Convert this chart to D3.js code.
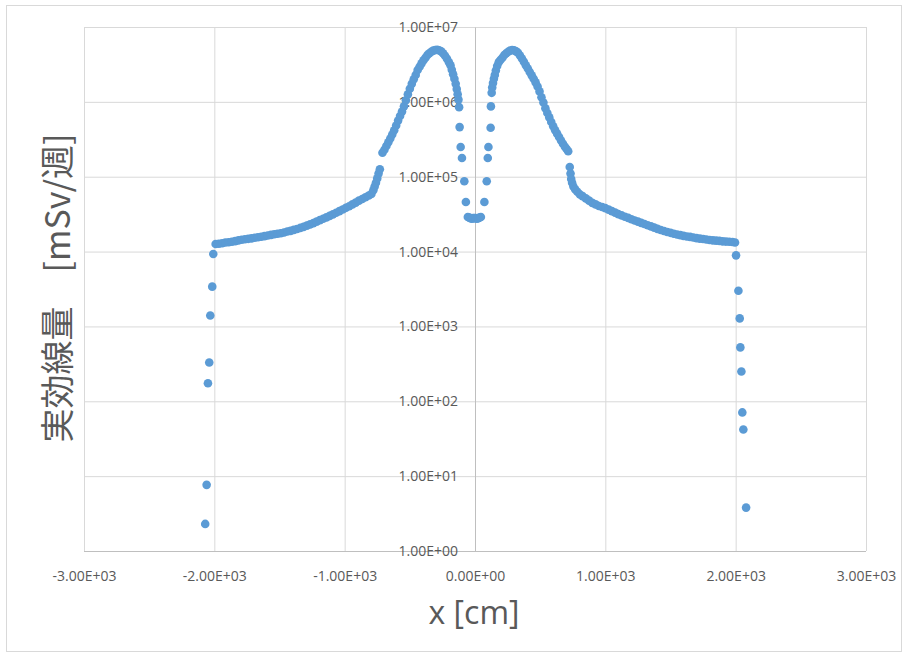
<!DOCTYPE html>
<html><head><meta charset="utf-8">
<script src="https://cdn.jsdelivr.net/npm/d3@7/dist/d3.min.js"></script>
<style>
html,body{margin:0;padding:0;background:#fff;}
svg{display:block;}
</style></head>
<body>
<svg id="chart" width="907" height="657"></svg>
<script>
// ---- data ----
const xTicks = [-3000, -2000, -1000, 0, 1000, 2000, 3000];
const xTickLabels = ["-3.00E+03", "-2.00E+03", "-1.00E+03", "0.00E+00", "1.00E+03", "2.00E+03", "3.00E+03"];
const yTicks = [1, 10, 100, 1000, 10000, 100000, 1000000, 10000000];
const yTickLabels = ["1.00E+00", "1.00E+01", "1.00E+02", "1.00E+03", "1.00E+04", "1.00E+05", "1.00E+06", "1.00E+07"];

// position x [cm]
const positions = [
  -2070, -2059, -2049, -2039, -2031, -2016, -2008,
  -1990, -1965, -1940, -1915, -1890, -1865, -1840, -1815, -1790, -1765, -1740, -1715, -1690, -1665, -1640, -1615,
  -1590, -1565, -1540, -1515, -1490, -1465, -1440, -1415, -1390, -1365, -1340, -1315, -1290, -1265, -1240, -1215,
  -1190, -1165, -1140, -1115, -1090, -1065, -1040, -1015, -990, -965, -940, -915, -890, -865, -840, -815,
  -795, -780, -770, -760, -750, -740, -730,
  -710, -695, -680, -665, -650, -635, -620, -605, -590, -575, -560, -545, -530, -515, -500, -485, -470, -455,
  -440, -425, -410, -395, -380, -365, -350, -335, -320, -305, -290, -275, -260, -245, -230, -215, -200,
  -188, -178, -168, -158, -148, -140, -133, -127, -122,
  -118, -110, -100, -82, -70,
  -55, -45, -35, -25, -15, -5, 5, 15, 25, 35, 45,
  72, 90, 98, 103, 120, 122,
  128, 132, 138, 145, 152, 160, 170, 182, 195, 210, 225, 240, 255, 270, 285, 300, 315, 330, 345, 360, 375,
  390, 405, 420, 435, 450, 465, 480, 495, 510, 525, 540, 555, 570, 585, 600, 615, 630, 645, 660, 675, 690, 703, 715,
  727, 733, 738, 745, 755, 768, 785, 805, 825, 850, 875, 900, 925, 950, 975, 1000, 1025, 1050, 1075, 1100,
  1125, 1150, 1175, 1200, 1225, 1250, 1275, 1300, 1325, 1350, 1375, 1400, 1425, 1450, 1475, 1500, 1525, 1550,
  1575, 1600, 1625, 1650, 1675, 1700, 1725, 1750, 1775, 1800, 1825, 1850, 1875, 1900, 1925, 1950, 1975, 1995,
  2003, 2021, 2031, 2036, 2044, 2051, 2059, 2080
];
// effective dose [mSv/week]
const doses = [
  2.3, 7.65, 174, 330, 1.4e3, 3.4e3, 9.3e3,
  1.26e4, 1.27e4, 1.29e4, 1.32e4, 1.33e4, 1.35e4, 1.38e4, 1.41e4, 1.44e4, 1.46e4, 1.48e4, 1.50e4, 1.53e4, 1.55e4, 1.58e4, 1.61e4,
  1.64e4, 1.67e4, 1.70e4, 1.73e4, 1.76e4, 1.80e4, 1.85e4, 1.89e4, 1.95e4, 2.00e4, 2.07e4, 2.14e4, 2.22e4, 2.31e4, 2.40e4, 2.51e4,
  2.63e4, 2.74e4, 2.86e4, 3.00e4, 3.14e4, 3.30e4, 3.47e4, 3.65e4, 3.84e4, 4.04e4, 4.27e4, 4.51e4, 4.79e4, 5.05e4, 5.32e4, 5.62e4,
  5.89e4, 6.6e4, 7.4e4, 8.3e4, 9.5e4, 1.10e5, 1.26e5,
  2.09e5, 2.29e5, 2.57e5, 2.88e5, 3.24e5, 3.67e5, 4.17e5, 4.84e5, 5.62e5, 6.46e5, 7.41e5, 8.71e5, 1.05e6, 1.26e6, 1.50e6, 1.74e6, 2.00e6, 2.29e6,
  2.66e6, 2.95e6, 3.27e6, 3.59e6, 3.89e6, 4.22e6, 4.47e6, 4.68e6, 4.84e6, 4.92e6, 4.95e6, 4.90e6, 4.73e6, 4.47e6, 4.12e6, 3.76e6, 3.39e6,
  3.09e6, 2.69e6, 2.34e6, 2.04e6, 1.74e6, 1.48e6, 1.26e6, 1.07e6, 8.5e5,
  4.6e5, 2.5e5, 1.78e5, 8.7e4, 4.6e4,
  2.9e4, 2.85e4, 2.8e4, 2.75e4, 2.8e4, 2.8e4, 2.8e4, 2.75e4, 2.8e4, 2.85e4, 2.9e4,
  4.6e4, 8.7e4, 1.78e5, 2.5e5, 4.5e5, 8.7e5,
  1.32e6, 1.55e6, 1.78e6, 2.04e6, 2.29e6, 2.63e6, 3.02e6, 3.39e6, 3.63e6, 3.89e6, 4.22e6, 4.47e6, 4.68e6, 4.84e6, 4.93e6, 4.90e6, 4.73e6, 4.52e6, 4.17e6, 3.80e6, 3.43e6,
  3.09e6, 2.79e6, 2.51e6, 2.26e6, 2.04e6, 1.82e6, 1.60e6, 1.38e6, 1.15e6, 9.8e5, 8.2e5, 7.1e5, 6.2e5, 5.37e5, 4.73e5, 4.17e5, 3.76e5, 3.39e5, 3.05e5, 2.75e5, 2.51e5, 2.34e5, 2.19e5,
  1.35e5, 1.10e5, 9.3e4, 8.3e4, 7.4e4, 6.8e4, 6.3e4, 5.8e4, 5.5e4, 5.13e4, 4.79e4, 4.47e4, 4.27e4, 4.07e4, 3.94e4, 3.80e4, 3.63e4, 3.47e4, 3.31e4, 3.16e4,
  3.04e4, 2.92e4, 2.82e4, 2.70e4, 2.60e4, 2.51e4, 2.42e4, 2.33e4, 2.25e4, 2.17e4, 2.09e4, 2.01e4, 1.94e4, 1.88e4, 1.83e4, 1.78e4, 1.73e4, 1.69e4,
  1.66e4, 1.62e4, 1.59e4, 1.57e4, 1.54e4, 1.51e4, 1.49e4, 1.47e4, 1.45e4, 1.43e4, 1.41e4, 1.40e4, 1.39e4, 1.37e4, 1.36e4, 1.35e4, 1.34e4, 1.32e4,
  8.9e3, 3.0e3, 1.28e3, 525, 250, 71, 42, 3.8
];
const xTitle = "x [cm]";
const yTitle = "実効線量　[mSv/週]";

// ---- layout ----
const svg = d3.select("#chart");
const W = 907, H = 657;
const plot = {left: 84, right: 866, top: 27, bottom: 551};
const textColor = "#595959";
const gridColor = "#d9d9d9";
const dotColor = "#5B9BD5";
const tickFont = "'Open Sans', sans-serif";

svg.append("rect").attr("x", 0).attr("y", 0).attr("width", W).attr("height", H).attr("fill", "#fff");
svg.append("rect").attr("x", 6.5).attr("y", 5.5).attr("width", 895).attr("height", 646)
  .attr("fill", "#fff").attr("stroke", gridColor).attr("stroke-width", 1);

const x = d3.scaleLinear().domain([-3000, 3000]).range([plot.left, plot.right]);
const y = d3.scaleLog().domain([1, 1e7]).range([plot.bottom, plot.top]);

// horizontal gridlines
const gy = svg.append("g").attr("transform", `translate(${plot.left},0)`)
  .call(d3.axisLeft(y).tickValues(yTicks).tickSize(-(plot.right - plot.left)).tickFormat(""));
gy.select(".domain").remove();
gy.selectAll(".tick line").attr("stroke", gridColor).attr("stroke-width", 1);

// vertical gridlines + x labels
const gx = svg.append("g").attr("transform", `translate(0,${plot.bottom})`)
  .call(d3.axisBottom(x).tickValues(xTicks).tickSize(-(plot.bottom - plot.top))
    .tickFormat((d, i) => xTickLabels[i]));
gx.select(".domain").attr("stroke", "#bfbfbf").attr("d", `M${plot.left},0.5H${plot.right}`);
gx.selectAll(".tick line").attr("stroke", gridColor).attr("stroke-width", 1);
gx.selectAll(".tick text").attr("y", 26).attr("dy", "0.32em")
  .attr("fill", textColor).style("font-family", tickFont).style("font-size", "14px");

// y axis at x = 0
const ya = svg.append("g").attr("transform", `translate(${x(0)},0)`)
  .call(d3.axisLeft(y).tickValues(yTicks).tickSize(0).tickPadding(17)
    .tickFormat((d, i) => yTickLabels[i]));
ya.select(".domain").attr("stroke", "#bfbfbf");
ya.selectAll(".tick text").attr("fill", textColor)
  .style("font-family", tickFont).style("font-size", "14px");

// points
svg.append("g").selectAll("circle").data(positions.map((p, i) => [p, doses[i]]))
  .join("circle")
  .attr("cx", d => x(d[0])).attr("cy", d => y(d[1])).attr("r", 4.3)
  .attr("fill", dotColor);

// titles
svg.append("text").attr("x", 474).attr("y", 624).attr("text-anchor", "middle")
  .attr("fill", textColor).style("font-family", "'Open Sans', sans-serif").style("font-size", "32px")
  .text(xTitle);
svg.append("text").attr("transform", "translate(70,288) rotate(-90)").attr("text-anchor", "middle")
  .attr("fill", textColor).style("font-family", "'Noto Sans CJK JP', sans-serif").style("font-size", "34px")
  .text(yTitle);
</script>
</body></html>
